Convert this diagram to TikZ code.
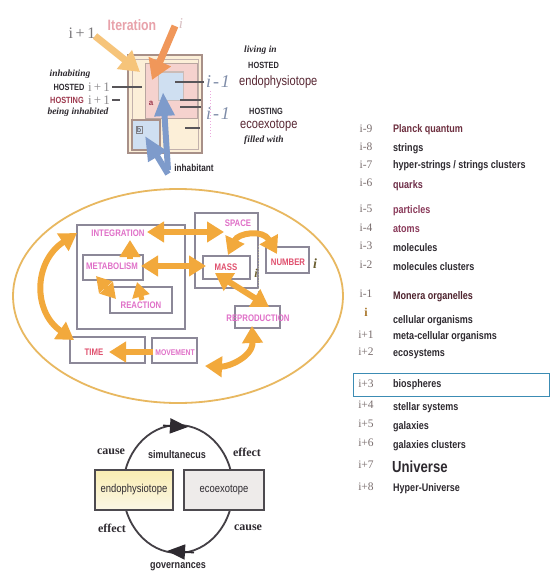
\documentclass[tikz,border=0pt]{standalone}
\usepackage{fontspec}
\setmainfont{Liberation Serif}
\setsansfont{Liberation Sans}
\newfontfamily\narrow[FakeStretch=0.82]{Liberation Sans}
\usetikzlibrary{arrows.meta,shapes.geometric}
\definecolor{orr}{HTML}{F2A93C}
\definecolor{boxg}{HTML}{8C8898}
\definecolor{pinkt}{HTML}{E070C8}
\definecolor{redt}{HTML}{E0506E}
\definecolor{ellc}{HTML}{E8B860}
\definecolor{blueA}{HTML}{7E9BCB}
\definecolor{yelA}{HTML}{F6C47A}
\definecolor{oraA}{HTML}{F0975A}
\definecolor{frameA}{HTML}{A89088}
\definecolor{paleY}{HTML}{FCEFD8}
\definecolor{paleP}{HTML}{F5D2CE}
\definecolor{paleB}{HTML}{CFDFF1}
\definecolor{idxg}{HTML}{7E8CA8}
\definecolor{darkt}{HTML}{2E2A30}
\definecolor{maroon}{HTML}{6E3040}
\definecolor{plum}{HTML}{8A3A5A}
\definecolor{tealb}{HTML}{3C8CB4}
\definecolor{listidx}{HTML}{7A6E6E}
\definecolor{olive}{HTML}{6A5E30}
\definecolor{itertx}{HTML}{E8A2AA}
\definecolor{endoY}{HTML}{F9EDB2}
\definecolor{endoW}{HTML}{FBF7E6}
\definecolor{ecoG}{HTML}{EEEBEA}
\begin{document}
\begin{tikzpicture}[x=1pt,y=-1pt,
 mbox/.style={draw=boxg, line width=1.5pt, inner sep=0pt},
 mtxt/.style={font=\narrow\bfseries\fontsize{9.5}{10}\selectfont, inner sep=0pt},
 oarr/.style={draw=orr, line width=6pt, {Triangle[width=20pt,length=17pt]}-{Triangle[width=20pt,length=17pt]}},
 oarrs/.style={draw=orr, line width=6pt, -{Triangle[width=20pt,length=17pt]}},
 lst/.style={anchor=west, inner sep=0pt, font=\narrow\bfseries\fontsize{11}{12}\selectfont, text=darkt},
 lidx/.style={inner sep=0pt, font=\fontsize{11.5}{12}\selectfont, text=listidx},
 tickl/.style={draw=darkt!80, line width=1.4pt},
 bital/.style={inner sep=0pt, font=\bfseries\itshape\fontsize{9.5}{11}\selectfont, text=darkt},
 capn/.style={inner sep=0pt, font=\narrow\bfseries\fontsize{9}{10}\selectfont, text=darkt},
 bigi/.style={inner sep=0pt, font=\itshape\fontsize{18}{19}\selectfont, text=idxg},
 cyctxt/.style={inner sep=0pt, font=\bfseries\fontsize{12}{13}\selectfont, text=darkt},
 cycbox/.style={draw=darkt!85, line width=1.4pt, inner sep=0pt, minimum height=40pt, font=\narrow\fontsize{11.5}{12}\selectfont, text=darkt},
]
\useasboundingbox (0,0) rectangle (555,578);
\fill[white] (0,0) rectangle (555,578);

%================ TOP =================
\node[inner sep=0pt, font=\narrow\bfseries\fontsize{15}{16}\selectfont, text=itertx] (iter) at (132,25) {Iteration};
\node[inner sep=0pt, font=\itshape\fontsize{15}{16}\selectfont, text=itertx!60!gray!60] (itop) at (181,24) {i};
\node[inner sep=0pt, font=\fontsize{16}{17}\selectfont, text=darkt!65] (ip1) at (82,33) {i\,+\,1};

\node[draw=frameA, line width=1.4pt, fill=paleY, minimum width=74pt, minimum height=98pt, inner sep=0pt] (outer) at (165,104) {};
\node[draw=frameA!70, line width=0.8pt, minimum width=66pt, minimum height=90pt, inner sep=0pt] (outerin) at (165,104) {};
\node[draw=frameA!80, line width=1pt, fill=paleP, minimum width=52pt, minimum height=55pt, inner sep=0pt] (pinkb) at (171,91) {};
\node[draw=frameA!60, line width=1pt, fill=paleB, minimum width=25pt, minimum height=28pt, inner sep=0pt] (blueb) at (171,86) {};
\node[draw=frameA, line width=1.2pt, fill=paleB, minimum width=28pt, minimum height=30pt, inner sep=0pt] (bbox) at (146,135) {};
\node[font=\sffamily\fontsize{7}{8}\selectfont, text=darkt, draw=darkt!60, inner sep=1pt] (blab) at (139,130) {b};
\node[font=\sffamily\bfseries\fontsize{8}{9}\selectfont, text=redt!70!black, inner sep=0pt] (alab) at (151,103) {a};

\coordinate (yT) at (95,36); \coordinate (yH) at (140,72);
\draw[draw=yelA, line width=7pt, -{Triangle[width=23pt,length=20pt]}] (yT) -- (yH);
\coordinate (oT) at (175,26); \coordinate (oH) at (152,80);
\draw[draw=oraA, line width=7pt, -{Triangle[width=23pt,length=20pt]}] (oT) -- (oH);

% tick lines
\coordinate (r1a) at (175,82); \coordinate (r1b) at (204,82);
\coordinate (r2a) at (180,100); \coordinate (r2b) at (201,100);
\coordinate (r3a) at (180,107); \coordinate (r3b) at (201,107);
\coordinate (r4a) at (185,128); \coordinate (r4b) at (200,128);
\coordinate (l1a) at (112,87); \coordinate (l1b) at (142,87);
\coordinate (l2a) at (112,100); \coordinate (l2b) at (120,100);
\draw[tickl] (r1a) -- (r1b);
\draw[tickl] (r2a) -- (r2b);
\draw[tickl] (r3a) -- (r3b);
\draw[tickl] (r4a) -- (r4b);
\draw[tickl] (l1a) -- (l1b);
\draw[tickl] (l2a) -- (l2b);

% blue arrows
\coordinate (b1T) at (168,170); \coordinate (b1H) at (163,92);
\draw[draw=blueA, line width=6pt, -{Triangle[width=19pt,length=24pt]}] (b1T) -- (b1H);
\coordinate (b2T) at (168,174); \coordinate (b2H) at (145,136);
\draw[draw=blueA, line width=6pt, -{Triangle[width=20pt,length=24pt]}] (b2T) -- (b2H);
\node[inner sep=0pt, font=\narrow\bfseries\fontsize{10}{11}\selectfont, text=darkt] (inhab) at (194,168) {inhabitant};

% labels right
\node[bigi] (im1a) at (218,82) {i\hspace{2pt}-\hspace{2pt}1};
\node[bigi] (im1b) at (218,114) {i\hspace{2pt}-\hspace{2pt}1};
\coordinate (dotA) at (210,91); \coordinate (dotB) at (210,137);
\draw[draw=pinkt!60, line width=1pt, dotted] (dotA) -- (dotB);
\node[bital, anchor=west] (livin) at (244,50) {living in};
\node[capn, anchor=west] (hosted2) at (248,65) {HOSTED};
\node[inner sep=0pt, anchor=west, font=\narrow\fontsize{13.5}{14}\selectfont, text=maroon!80!black] (endo1) at (239,82) {endophysiotope};
\node[capn, anchor=west] (hosting2) at (249,111) {HOSTING};
\node[inner sep=0pt, anchor=west, font=\narrow\fontsize{13.5}{14}\selectfont, text=maroon!80!black] (eco1) at (240,126) {ecoexotope};
\node[bital, anchor=west] (fillw) at (244,140) {filled with};

% labels left
\node[bital] (inhabiting) at (70,74) {inhabiting};
\node[capn] (hosted1) at (69,87) {HOSTED};
\node[inner sep=0pt, font=\fontsize{13}{14}\selectfont, text=darkt!55] (ip1a) at (99,87) {i\,+\,1};
\node[capn, text=redt!70!black] (hosting1) at (67,100) {HOSTING};
\node[inner sep=0pt, font=\fontsize{13}{14}\selectfont, text=darkt!55] (ip1b) at (99,100) {i\,+\,1};
\node[bital] (beinh) at (78,112) {being inhabited};

%================ MIDDLE =================
\node[ellipse, draw=ellc, line width=1.8pt, minimum width=330pt, minimum height=214pt, inner sep=0pt] (env) at (178,296) {};

\node[mbox, minimum width=108pt, minimum height=104pt] (integ) at (131,277) {};
\node[mbox, minimum width=60pt, minimum height=25pt] (metab) at (113,267.5) {};
\node[mbox, minimum width=62pt, minimum height=26pt] (react) at (141,300) {};
\node[mbox, minimum width=63pt, minimum height=75pt] (space) at (226.5,250.5) {};
\node[mbox, minimum width=47pt, minimum height=23pt] (mass) at (226.5,267.5) {};
\node[mbox, minimum width=43pt, minimum height=26pt] (numb) at (287.5,260) {};
\node[mbox, minimum width=45pt, minimum height=22pt] (repro) at (257.5,317) {};
\node[mbox, minimum width=75pt, minimum height=26pt] (time) at (107.5,350) {};
\node[mbox, minimum width=45pt, minimum height=25pt] (move) at (174.5,350.5) {};

\node[mtxt, text=pinkt] (tinteg) at (118,233) {INTEGRATION};
\node[mtxt, text=pinkt] (tmetab) at (112,266) {METABOLISM};
\node[mtxt, text=pinkt] (treact) at (141,305) {REACTION};
\node[mtxt, text=pinkt] (tspace) at (238,223) {SPACE};
\node[mtxt, text=redt] (tmass) at (226,267) {MASS};
\node[mtxt, text=redt] (tnumb) at (288,262) {NUMBER};
\node[mtxt, text=pinkt] (trepro) at (258,318) {REPRODUCTION};
\node[mtxt, text=redt] (ttime) at (94,352) {TIME};
\node[mtxt, text=pinkt, font=\narrow\bfseries\fontsize{8.3}{9}\selectfont] (tmove) at (175,353) {MOVEMENT};

\node[inner sep=0pt, font=\bfseries\itshape\fontsize{12}{13}\selectfont, text=olive] (imass) at (256,273) {i};
\node[inner sep=0pt, font=\bfseries\itshape\fontsize{14}{15}\selectfont, text=olive] (inumb) at (315,264) {i};
\coordinate (mdA) at (258,246); \coordinate (mdB) at (258,292);
\draw[draw=olive!50, line width=0.8pt, dotted] (mdA) -- (mdB);

% orange arrows
\coordinate (a1L) at (147,232); \coordinate (a1R) at (224,232);
\draw[oarr] (a1L) -- (a1R);
\coordinate (a2L) at (141,266); \coordinate (a2R) at (206,266);
\draw[oarr] (a2L) -- (a2R);
\coordinate (a3T) at (130,259); \coordinate (a3H) at (130,240);
\draw[oarrs] (a3T) -- (a3H);
\coordinate (a4A) at (96,276); \coordinate (a4B) at (116,299);
\draw[draw=orr, line width=5pt, {Triangle[width=17pt,length=15pt]}-{Triangle[width=17pt,length=15pt]}] (a4A) -- (a4B);
\coordinate (a5T) at (142,300); \coordinate (a5H) at (137,282);
\draw[draw=orr, line width=5pt, -{Triangle[width=17pt,length=15pt]}] (a5T) -- (a5H);
\coordinate (a6A) at (77,233); \coordinate (a6B) at (74,340);
\draw[oarr] (a6A) .. controls (33,262) and (33,312) .. (a6B);
\coordinate (a7T) at (153,352); \coordinate (a7H) at (109,352);
\draw[oarrs] (a7T) -- (a7H);
\coordinate (a8A) at (205,366); \coordinate (a8B) at (252,326);
\draw[oarr] (a8A) .. controls (228,367) and (253,357) .. (a8B);
\coordinate (a9A) at (215,273); \coordinate (a9B) at (269,307);
\draw[oarr] (a9A) -- (a9B);
\coordinate (a10A) at (228,255); \coordinate (a10B) at (277,254);
\draw[oarr] (a10A) .. controls (238,233) and (263,229) .. (a10B);

%================ RIGHT LIST =================
\node[lidx] (n1) at (366,129) {i-9};   \node[lst, text=maroon] (t1) at (393,130) {Planck quantum};
\node[lidx] (n2) at (366,147) {i-8};   \node[lst] (t2) at (393,149) {strings};
\node[lidx] (n3) at (366,165) {i-7};   \node[lst] (t3) at (393,166) {hyper-strings / strings clusters};
\node[lidx] (n4) at (366,183) {i-6};   \node[lst, text=plum!80!black] (t4) at (393,186) {quarks};
\node[lidx] (n5) at (366,209) {i-5};   \node[lst, text=plum] (t5) at (393,211) {particles};
\node[lidx] (n6) at (366,228) {i-4};   \node[lst, text=plum] (t6) at (393,229) {atoms};
\node[lidx] (n7) at (366,246) {i-3};   \node[lst] (t7) at (393,248) {molecules};
\node[lidx] (n8) at (366,265) {i-2};   \node[lst] (t8) at (393,267) {molecules clusters};
\node[lidx] (n9) at (366,294) {i-1};   \node[lst, text=maroon!70!black] (t9) at (393,297) {Monera organelles};
\node[inner sep=0pt, font=\bfseries\fontsize{12}{13}\selectfont, text=orr!70!black] (n10) at (366,312) {i};
\node[lst] (t10) at (393,321) {cellular organisms};
\node[lidx] (n11) at (366,335) {i+1};  \node[lst] (t11) at (393,337) {meta-cellular organisms};
\node[lidx] (n12) at (366,352) {i+2};  \node[lst] (t12) at (393,354) {ecosystems};
\node[draw=tealb, line width=1.8pt, minimum width=196pt, minimum height=23pt, inner sep=0pt] (biobox) at (451.5,385) {};
\node[lidx] (n13) at (366,384) {i+3};  \node[lst] (t13) at (393,385) {biospheres};
\node[lidx] (n14) at (366,405) {i+4};  \node[lst] (t14) at (393,408) {stellar systems};
\node[lidx] (n15) at (366,424) {i+5};  \node[lst] (t15) at (393,427) {galaxies};
\node[lidx] (n16) at (366,443) {i+6};  \node[lst] (t16) at (393,446) {galaxies clusters};
\node[lidx] (n17) at (366,465) {i+7};  \node[lst, font=\narrow\bfseries\fontsize{16}{17}\selectfont] (t17) at (392,467) {Universe};
\node[lidx] (n18) at (366,487) {i+8};  \node[lst] (t18) at (393,489) {Hyper-Universe};

%================ BOTTOM =================
\node[ellipse, draw=darkt!90, line width=1.8pt, minimum width=110pt, minimum height=128pt, inner sep=0pt] (cyc) at (178,489) {};
\coordinate (cyT1) at (163,425.5); \coordinate (cyT2) at (188,427);
\draw[draw=darkt, line width=1.8pt, -{Triangle[width=15pt,length=18pt]}] (cyT1) -- (cyT2);
\coordinate (cyB1) at (194,552.5); \coordinate (cyB2) at (167,551);
\draw[draw=darkt, line width=1.8pt, -{Triangle[width=15pt,length=18pt]}] (cyB1) -- (cyB2);
\node[cycbox, minimum width=78pt, top color=endoY, bottom color=endoW] (endo) at (134,490) {endophysiotope};
\node[cycbox, minimum width=80pt, fill=ecoG] (eco) at (224,490) {ecoexotope};
\node[cyctxt] (cause1) at (111,452) {cause};
\node[inner sep=0pt, font=\narrow\bfseries\fontsize{11}{12}\selectfont, text=darkt] (simul) at (177,455) {simultanecus};
\node[cyctxt] (effect1) at (247,452) {effect};
\node[cyctxt] (effect2) at (112,528) {effect};
\node[cyctxt] (cause2) at (248,528) {cause};
\node[inner sep=0pt, font=\narrow\bfseries\fontsize{11}{12}\selectfont, text=darkt] (gov) at (178,567) {governances};
\end{tikzpicture}
\end{document}
